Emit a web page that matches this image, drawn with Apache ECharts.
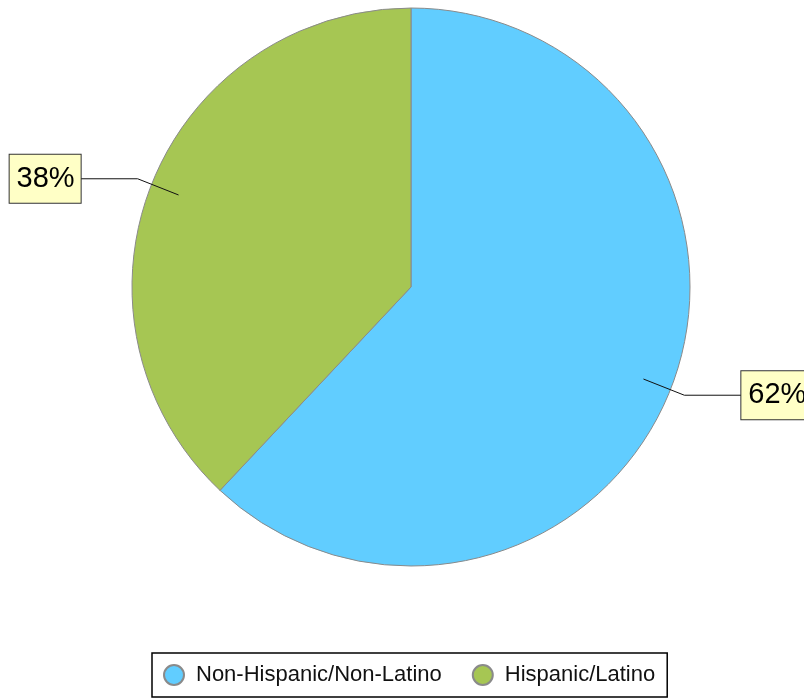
<!DOCTYPE html>
<html>
<head>
<meta charset="utf-8">
<script src="https://cdn.jsdelivr.net/npm/echarts@6/dist/echarts.min.js"></script>
<style>
  html, body { margin: 0; padding: 0; background: #fff; }
  #chart { width: 804px; height: 700px; }
</style>
</head>
<body>
<div id="chart"></div>
<script>
// Ethnicity breakdown (percent of total)
const categories = ['Non-Hispanic/Non-Latino', 'Hispanic/Latino'];
const shares = [62, 38];
const colors = ['#61CDFF', '#A6C653'];

const chart = echarts.init(document.getElementById('chart'), null, { renderer: 'canvas' });

const sliceData = categories.map((name, i) => ({
  name: name,
  value: shares[i],
  itemStyle: { color: colors[i] }
}));

const center = [411, 287];

chart.setOption({
  animation: false,
  legend: {
    data: categories,
    left: 152,
    top: 653,
    orient: 'horizontal',
    icon: 'circle',
    itemWidth: 20,
    itemHeight: 20,
    itemGap: 30,
    padding: [11, 12, 11, 11],
    borderColor: '#000',
    borderWidth: 1.5,
    textStyle: {
      fontFamily: 'Liberation Sans, Arial, sans-serif',
      fontSize: 22,
      color: '#111',
      padding: [0, 0, 0, 7]
    }
  },
  series: [
    {
      // Filled slices
      type: 'pie',
      center: center,
      radius: 279,
      startAngle: 90,
      clockwise: true,
      silent: true,
      label: { show: false },
      labelLine: { show: false },
      itemStyle: { borderColor: '#8a8a8a', borderWidth: 1 },
      data: sliceData
    },
    {
      // Percentage callouts; leader lines start inside the slices
      type: 'pie',
      center: center,
      radius: 250,
      startAngle: 90,
      clockwise: true,
      silent: true,
      legendHoverLink: false,
      z: 5,
      itemStyle: { color: 'rgba(0,0,0,0)', borderWidth: 0 },
      label: {
        show: true,
        position: 'outside',
        overflow: 'none',
        width: 58,
        formatter: (p) => p.value + '%',
        fontFamily: 'Liberation Sans, Arial, sans-serif',
        fontSize: 29,
        color: '#000',
        backgroundColor: '#FFFFC6',
        borderColor: '#333',
        borderWidth: 1,
        padding: [10, 6, 9, 7],
        distanceToLabelLine: 0
      },
      labelLine: {
        show: true,
        length: 44,
        length2: 57,
        smooth: false,
        lineStyle: { color: '#111', width: 1 }
      },
      data: categories.map((name, i) => ({ name: name, value: shares[i] }))
    }
  ]
});
</script>
</body>
</html>
